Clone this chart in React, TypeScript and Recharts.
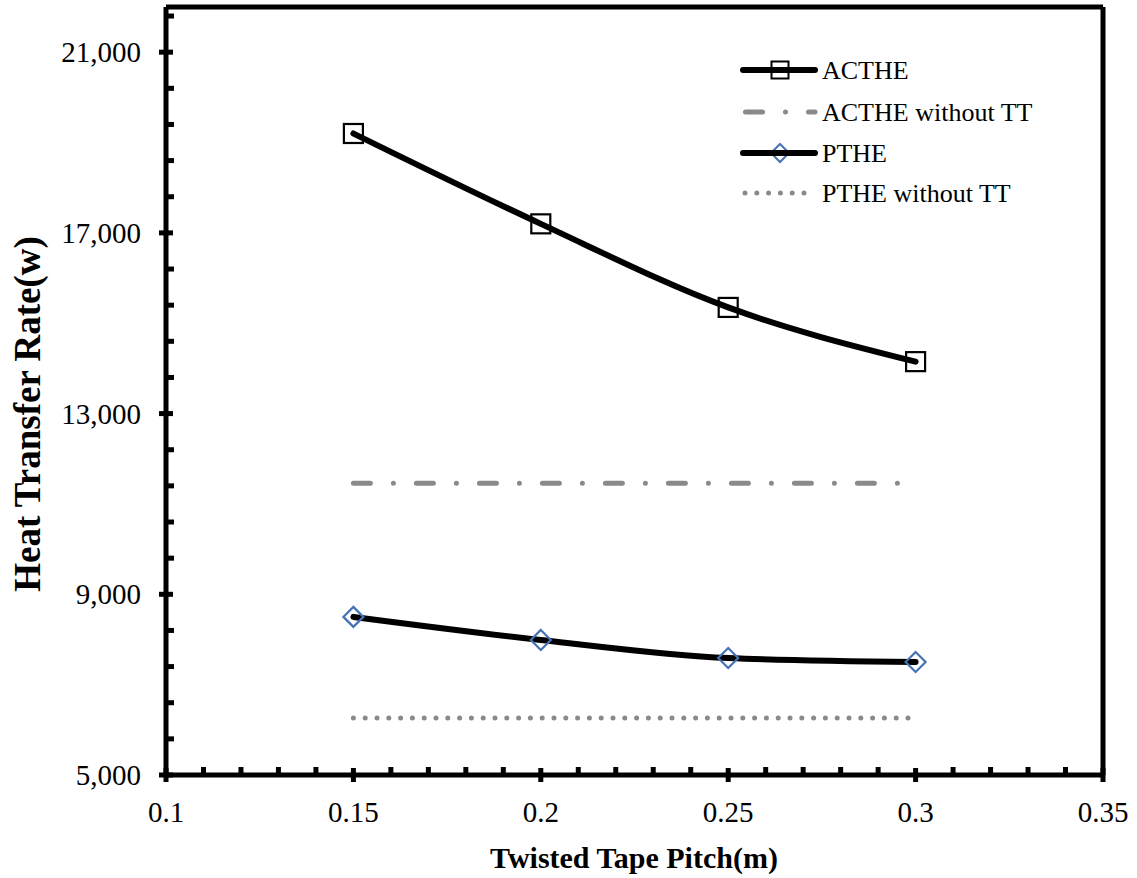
import {
  ComposedChart,
  Legend,
  Line,
  ReferenceLine,
  XAxis,
  YAxis,
} from "recharts";

// twisted tape pitch (m)
const pitch = [0.15, 0.2, 0.25, 0.3];

// heat transfer rate (W)
const acthe = [19200, 17200, 15350, 14150];
const actheNoTT = [11460, 11460, 11460, 11460];
const pthe = [8500, 7990, 7590, 7500];
const ptheNoTT = [6260, 6260, 6260, 6260];

const xTicks = [
  0.1, 0.11, 0.12, 0.13, 0.14, 0.15, 0.16, 0.17, 0.18, 0.19, 0.2, 0.21, 0.22,
  0.23, 0.24, 0.25, 0.26, 0.27, 0.28, 0.29, 0.3, 0.31, 0.32, 0.33, 0.34, 0.35,
];
const xMajor = [0.1, 0.15, 0.2, 0.25, 0.3, 0.35];

const yTicks = [
  5000, 5800, 6600, 7400, 8200, 9000, 9800, 10600, 11400, 12200, 13000, 13800,
  14600, 15400, 16200, 17000, 17800, 18600, 19400, 20200, 21000, 21800,
];
const yMajor = [5000, 9000, 13000, 17000, 21000];

const X_DOMAIN: [number, number] = [0.1, 0.35];
const Y_DOMAIN: [number, number] = [5000, 22000];

const data = pitch.map((p, i) => ({
  pitch: p,
  acthe: acthe[i],
  actheNoTT: actheNoTT[i],
  pthe: pthe[i],
  ptheNoTT: ptheNoTT[i],
}));

const FONT = "'Liberation Serif', 'Times New Roman', serif";
const GREY = "#8a8a8a";
const BLUE = "#4572b4";
const DASH_DOT = "17 23 0 23";
const DOTTED = "0 11.8";

const isMajor = (v: number, majors: number[]) =>
  majors.some((m) => Math.abs(m - v) < 1e-6);

const XTick = (props: any) => {
  const { x, y, payload } = props;
  const v = payload.value as number;
  if (isMajor(v, xMajor)) {
    return (
      <g>
        <line x1={x} x2={x} y1={y - 7} y2={y + 7} stroke="#000" strokeWidth={5} />
        <text x={x} y={y + 47} textAnchor="middle" fontFamily={FONT} fontSize={29} fill="#000">
          {String(v)}
        </text>
      </g>
    );
  }
  return <line x1={x} x2={x} y1={y} y2={y - 8} stroke="#000" strokeWidth={5} />;
};

const YTick = (props: any) => {
  const { x, y, payload } = props;
  const v = payload.value as number;
  if (isMajor(v, yMajor)) {
    return (
      <g>
        <line x1={x - 7} x2={x + 7} y1={y} y2={y} stroke="#000" strokeWidth={5} />
        <text x={x - 25} y={y + 10} textAnchor="end" fontFamily={FONT} fontSize={29} fill="#000">
          {v.toLocaleString("en-US")}
        </text>
      </g>
    );
  }
  return <line x1={x} x2={x + 8} y1={y} y2={y} stroke="#000" strokeWidth={5} />;
};

const SquareDot = (props: any) => {
  const { cx, cy } = props;
  if (cx == null || cy == null) return null;
  return (
    <rect x={cx - 9.5} y={cy - 9.5} width={19} height={19} fill="none" stroke="#000" strokeWidth={2.2} />
  );
};

const DiamondDot = (props: any) => {
  const { cx, cy } = props;
  if (cx == null || cy == null) return null;
  const r = 10;
  return (
    <path
      d={`M${cx},${cy - r}L${cx + r},${cy}L${cx},${cy + r}L${cx - r},${cy}Z`}
      fill="none"
      stroke={BLUE}
      strokeWidth={2.2}
    />
  );
};

const legendRows = [
  { label: "ACTHE", kind: "square" },
  { label: "ACTHE without TT", kind: "dashdot" },
  { label: "PTHE", kind: "diamond" },
  { label: "PTHE without TT", kind: "dotted" },
];
const legendRowY = [20, 62, 103, 143];

const LegendBox = () => (
  <svg width={340} height={170} style={{ display: "block" }}>
    {legendRows.map((row, i) => {
      const y = legendRowY[i];
      return (
        <g key={row.label}>
          {row.kind === "square" && (
            <>
              <line x1={3} x2={75} y1={y} y2={y} stroke="#000" strokeWidth={6} strokeLinecap="round" />
              <rect x={31.5} y={y - 8.5} width={17} height={17} fill="none" stroke="#000" strokeWidth={2} />
            </>
          )}
          {row.kind === "dashdot" && (
            <line
              x1={5.5}
              x2={75}
              y1={y}
              y2={y}
              stroke={GREY}
              strokeWidth={5}
              strokeLinecap="round"
              strokeDasharray={DASH_DOT}
            />
          )}
          {row.kind === "diamond" && (
            <>
              <path
                d={`M40,${y - 9}L49,${y}L40,${y + 9}L31,${y}Z`}
                fill="none"
                stroke={BLUE}
                strokeWidth={2}
              />
              <line x1={3} x2={75} y1={y} y2={y} stroke="#000" strokeWidth={6} strokeLinecap="round" />
            </>
          )}
          {row.kind === "dotted" && (
            <line
              x1={5}
              x2={70}
              y1={y}
              y2={y}
              stroke={GREY}
              strokeWidth={5}
              strokeLinecap="round"
              strokeDasharray={DOTTED}
            />
          )}
          <text x={82} y={y + 9} fontFamily={FONT} fontSize={26} fill="#000">
            {row.label}
          </text>
        </g>
      );
    })}
  </svg>
);

export default function App() {
  return (
    <div style={{ position: "absolute", left: 0, top: 0, background: "#fff" }}>
      <ComposedChart
        width={1137}
        height={878}
        data={data}
        margin={{ top: 7, right: 34, left: 0, bottom: 0 }}
      >
        <XAxis
          xAxisId="x"
          dataKey="pitch"
          type="number"
          domain={X_DOMAIN}
          ticks={xTicks}
          interval={0}
          height={103}
          tickSize={0}
          tickMargin={0}
          tickLine={false}
          axisLine={{ stroke: "#000", strokeWidth: 5 }}
          tick={XTick}
          label={() => (
            <text
              x={634}
              y={868}
              textAnchor="middle"
              fontFamily={FONT}
              fontSize={30}
              fontWeight="bold"
              fill="#000"
            >
              Twisted Tape Pitch(m)
            </text>
          )}
        />
        <YAxis
          yAxisId="y"
          type="number"
          domain={Y_DOMAIN}
          ticks={yTicks}
          interval={0}
          width={166}
          tickSize={0}
          tickMargin={0}
          tickLine={false}
          axisLine={{ stroke: "#000", strokeWidth: 5 }}
          tick={YTick}
          label={() => (
            <text
              x={40}
              y={414}
              transform="rotate(-90 40 414)"
              textAnchor="middle"
              fontFamily={FONT}
              fontSize={37}
              fontWeight="bold"
              fill="#000"
            >
              Heat Transfer Rate(w)
            </text>
          )}
        />

        {/* top and right frame */}
        <ReferenceLine
          xAxisId="x"
          yAxisId="y"
          y={Y_DOMAIN[1]}
          stroke="#000"
          strokeWidth={5}
          ifOverflow="visible"
        />
        <ReferenceLine
          xAxisId="x"
          yAxisId="y"
          x={X_DOMAIN[1]}
          stroke="#000"
          strokeWidth={5}
          ifOverflow="visible"
        />

        <Legend
          layout="vertical"
          align="center"
          verticalAlign="middle"
          content={() => <LegendBox />}
          wrapperStyle={{ left: 740, top: 50, width: 340, height: 170 }}
        />

        <Line
          xAxisId="x"
          yAxisId="y"
          dataKey="actheNoTT"
          type="linear"
          stroke={GREY}
          strokeWidth={5}
          strokeLinecap="round"
          strokeDasharray={DASH_DOT}
          dot={false}
          activeDot={false}
          isAnimationActive={false}
        />
        <Line
          xAxisId="x"
          yAxisId="y"
          dataKey="ptheNoTT"
          type="linear"
          stroke={GREY}
          strokeWidth={5}
          strokeLinecap="round"
          strokeDasharray={DOTTED}
          dot={false}
          activeDot={false}
          isAnimationActive={false}
        />

        {/* markers first, so the curves sit on top of them */}
        <Line
          xAxisId="x"
          yAxisId="y"
          dataKey="acthe"
          stroke="none"
          dot={SquareDot}
          activeDot={false}
          isAnimationActive={false}
        />
        <Line
          xAxisId="x"
          yAxisId="y"
          dataKey="pthe"
          stroke="none"
          dot={DiamondDot}
          activeDot={false}
          isAnimationActive={false}
        />
        <Line
          xAxisId="x"
          yAxisId="y"
          dataKey="acthe"
          type="monotone"
          stroke="#000"
          strokeWidth={6}
          strokeLinecap="round"
          dot={false}
          activeDot={false}
          isAnimationActive={false}
        />
        <Line
          xAxisId="x"
          yAxisId="y"
          dataKey="pthe"
          type="monotone"
          stroke="#000"
          strokeWidth={6}
          strokeLinecap="round"
          dot={false}
          activeDot={false}
          isAnimationActive={false}
        />
      </ComposedChart>
    </div>
  );
}
